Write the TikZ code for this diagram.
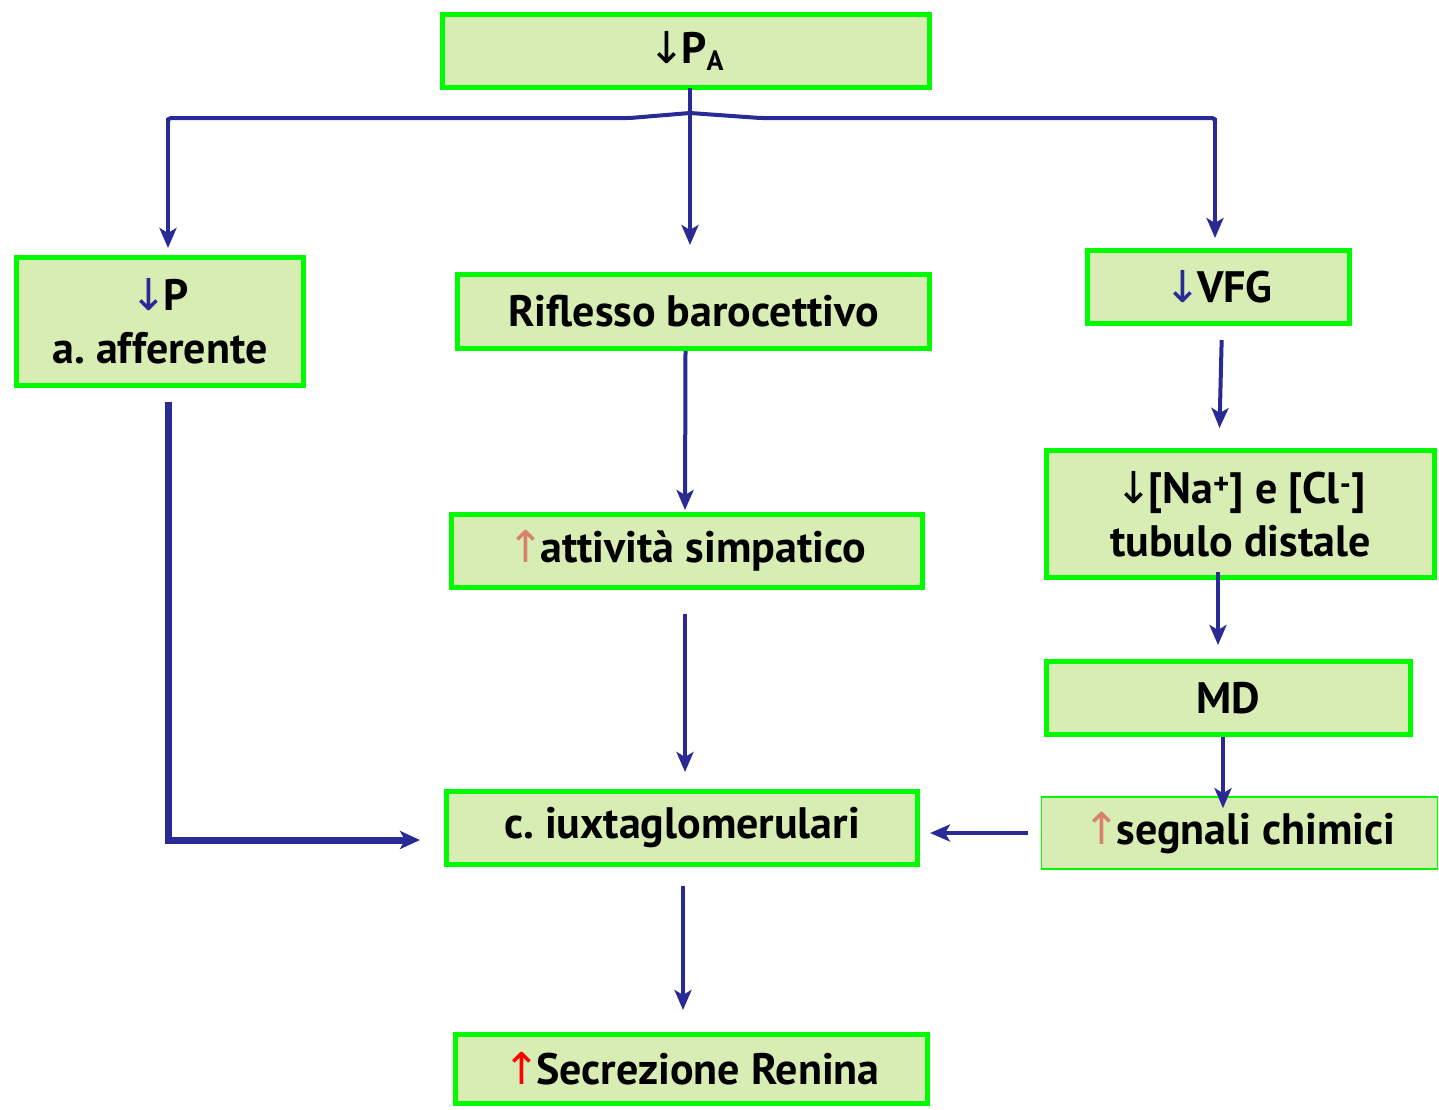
\documentclass[tikz,border=0pt]{standalone}
\usepackage{fontspec}
\setmainfont{PT Sans}
\newfontfamily\arrowfont{DejaVu Sans}
\usetikzlibrary{arrows.meta}
\definecolor{boxfill}{RGB}{216,237,180}
\definecolor{boxline}{RGB}{0,250,0}
\definecolor{flow}{RGB}{42,42,150}
\definecolor{salmon}{RGB}{215,130,105}
\newcommand{\dn}[1][black]{{\arrowfont\mdseries\textcolor{#1}{↓}}\kern-4pt}
\newcommand{\upr}[1][red]{{\arrowfont\mdseries\textcolor{#1}{↑}}\kern-4pt}
\frenchspacing
\begin{document}
\begin{tikzpicture}[x=1pt,y=-1pt,
  stepbox/.style={draw=boxline,line width=5pt,fill=boxfill,inner sep=0pt,
    align=center,font=\fontsize{44}{53}\selectfont\bfseries\frenchspacing},
  thinbox/.style={stepbox,line width=1.6pt},
  link/.style={draw=flow,line width=4pt},
  arr/.style={link,-{Stealth[length=20pt,width=17pt,inset=5pt]}}]
\useasboundingbox (0,0) rectangle (1439,1109);

% boxes
\node[stepbox,minimum width=487pt,minimum height=73pt] (top) at (686,51) {\dn P\raisebox{-0.35ex}{\fontsize{28}{28}\selectfont A}};
\node[stepbox,minimum width=287pt,minimum height=128pt] (aff) at (160,321.5) {\dn[flow]P\\a. afferente};
\node[stepbox,minimum width=472pt,minimum height=74pt] (baro) at (693.5,311.5) {Riflesso barocettivo};
\node[stepbox,minimum width=262pt,minimum height=73pt] (vfg) at (1218.5,287) {\dn[flow]VFG};
\node[stepbox,minimum width=388pt,minimum height=127pt] (na) at (1240.5,514) {{\dn}[Na\textsuperscript{+}] e [Cl\textsuperscript{-}]\\tubulo distale};
\node[stepbox,minimum width=364pt,minimum height=73pt] (md) at (1228.5,698) {MD};
\node[thinbox,minimum width=396pt,minimum height=72pt] (seg) at (1239.5,833) {\upr[salmon]segnali chimici};
\node[stepbox,minimum width=471pt,minimum height=73pt] (simp) at (687,551) {\upr[salmon]attività simpatico};
\node[stepbox,minimum width=471pt,minimum height=73pt] (iux) at (682,828) {c. iuxtaglomerulari};
\node[stepbox,minimum width=472pt,minimum height=69pt] (ren) at (691.5,1069) {\upr Secrezione Renina};

% branching from the top box
\coordinate (bl) at (168,118);
\coordinate (bc) at (690,113);
\coordinate (br) at (1215,118);
\draw[link,rounded corners=3pt] (bl |- 0,124) -- (bl) -- (630,118) -- (bc) -- (760,118) -- (br) -- (br |- 0,124);
\draw[arr,shorten >=7pt] (bl) -- (bl |- aff.north);
\draw[arr,shorten >=10pt] (br) -- (br |- vfg.north);
\draw[arr,shorten <=-2pt,shorten >=27pt] (top.south -| bc) -- (bc |- baro.north);

% middle column
\draw[arr,shorten >=2pt] ([xshift=-8pt]baro.south) -- ([xshift=-2pt]simp.north);
\draw[arr,shorten <=24pt,shorten >=17pt] ([xshift=-2pt]simp.south) -- ([xshift=3pt]iux.north);
\draw[arr,shorten <=19pt,shorten >=22pt] ([xshift=1pt]iux.south) -- ([xshift=-8.5pt]ren.north);

% left column
\draw[link,line width=7pt,-{Stealth[length=20pt,width=18pt,inset=5pt]},shorten <=14pt,shorten >=24pt]
  ([xshift=8pt]aff.south) |- ([yshift=-12pt]iux.west);

% right column
\draw[arr,shorten <=14pt,shorten >=20pt] ([xshift=3.5pt]vfg.south) -- ([xshift=-21.5pt]na.north);
\draw[arr,shorten <=-8pt,shorten >=14pt] ([xshift=-22.5pt]na.south) -- ([xshift=-10.5pt]md.north);
\draw[arr,shorten >=-12pt] ([xshift=-5.5pt]md.south) -- ([xshift=-16.5pt]seg.north);
\draw[arr,shorten <=13pt,shorten >=10pt] (seg.west) -- (seg.west -| iux.east);
\end{tikzpicture}
\end{document}
